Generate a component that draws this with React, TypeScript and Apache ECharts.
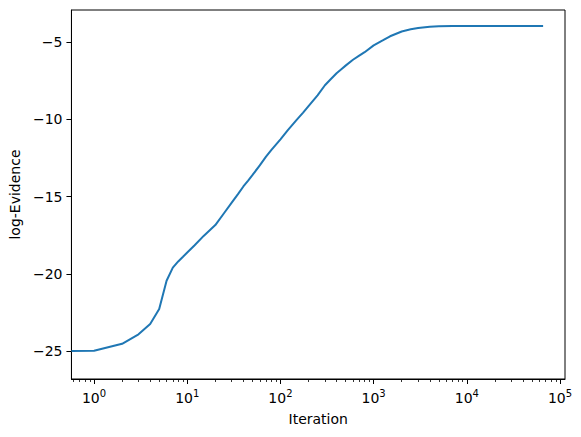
import React, { useEffect, useRef } from "react";
import * as echarts from "echarts";

const iterations = [0, 1, 2, 3, 4, 5, 6, 7, 8, 9, 10, 12, 15, 20, 25, 30, 35, 40, 45, 50, 60, 70, 80, 100, 120, 150, 175, 200, 250, 300, 350, 400, 450, 500, 600, 700, 800, 1000, 1250, 1500, 2000, 2500, 3000, 4000, 5000, 7000, 10000, 20000, 40000, 65800];
const logEvidence = [-25.0, -24.98, -24.53, -23.92, -23.25, -22.28, -20.45, -19.6, -19.2, -18.9, -18.62, -18.15, -17.55, -16.85, -16.05, -15.4, -14.85, -14.35, -13.97, -13.62, -12.98, -12.42, -11.98, -11.3, -10.7, -10.02, -9.57, -9.15, -8.45, -7.8, -7.38, -7.02, -6.76, -6.53, -6.15, -5.88, -5.66, -5.22, -4.9, -4.63, -4.32, -4.18, -4.1, -4.01, -3.98, -3.96, -3.96, -3.96, -3.96, -3.96];
const xMajorTicks = [1, 10, 100, 1000, 10000, 100000];
const yTicks = [-25, -20, -15, -10, -5];

const X_MIN = 0.572;
const X_MAX = 113000;
const Y_MIN = -26.81;
const Y_MAX = -2.93;

const FONT = "DejaVu Sans";

function minorTicks(): number[] {
  const out: number[] = [];
  for (let d = -1; d <= 5; d++) {
    for (let k = 2; k <= 9; k++) {
      const v = k * Math.pow(10, d);
      if (v >= X_MIN && v <= X_MAX) out.push(v);
    }
  }
  return out;
}

export default function App() {
  const ref = useRef<HTMLDivElement>(null);
  useEffect(() => {
    if (!ref.current) return;
    const chart = echarts.init(ref.current, null, { renderer: "svg" });
    const data = iterations.map((it, i) => [it > 0 ? it : X_MIN, logEvidence[i]]);
    chart.setOption({
      animation: false,
      grid: {
        left: 69,
        right: 16,
        top: 10,
        bottom: 58,
        show: true,
        borderColor: "#000",
        borderWidth: 1,
        backgroundColor: "transparent",
      },
      xAxis: [
        {
          type: "log",
          min: X_MIN,
          max: X_MAX,
          name: "Iteration",
          nameLocation: "middle",
          nameGap: 33,
          nameTextStyle: { fontFamily: FONT, fontSize: 14, color: "#000" },
          axisLine: { show: true, lineStyle: { color: "#000", width: 1 } },
          axisTick: {
            show: true,
            customValues: xMajorTicks,
            length: 5,
            lineStyle: { color: "#000", width: 1 },
          },
          axisLabel: {
            customValues: xMajorTicks,
            margin: 9,
            formatter: (v: number) => `{b|10}{s|${Math.round(Math.log10(v))}}`,
            rich: {
              b: { fontFamily: FONT, fontSize: 14, color: "#000", verticalAlign: "bottom" },
              s: { fontFamily: FONT, fontSize: 10, color: "#000", verticalAlign: "bottom", padding: [0, 0, 7, 0] },
            },
          },
          splitLine: { show: false },
          minorTick: { show: false },
        },
        {
          type: "log",
          min: X_MIN,
          max: X_MAX,
          position: "bottom",
          axisLine: { show: false },
          axisTick: {
            show: true,
            customValues: minorTicks(),
            length: 3,
            lineStyle: { color: "#000", width: 0.8 },
          },
          axisLabel: { show: false },
          splitLine: { show: false },
        },
      ],
      yAxis: {
        type: "value",
        min: Y_MIN,
        max: Y_MAX,
        name: "log-Evidence",
        nameLocation: "middle",
        nameGap: 46,
        nameTextStyle: { fontFamily: FONT, fontSize: 14, color: "#000" },
        axisLine: { show: true, lineStyle: { color: "#000", width: 1 } },
        axisTick: { show: true, customValues: yTicks, length: 5, lineStyle: { color: "#000", width: 1 } },
        axisLabel: {
          customValues: yTicks,
          margin: 9,
          fontFamily: FONT,
          fontSize: 14,
          color: "#000",
          formatter: (v: number) => String(v).replace("-", "\u2212"),
        },
        splitLine: { show: false },
      },
      series: [
        {
          type: "line",
          xAxisIndex: 0,
          data,
          showSymbol: false,
          lineStyle: { color: "#1f77b4", width: 2 },
          itemStyle: { color: "#1f77b4" },
        },
      ],
    });
    return () => chart.dispose();
  }, []);
  return (
    <div
      ref={ref}
      style={{ position: "fixed", left: 0, top: 0, width: 581, height: 437, background: "#fff" }}
    />
  );
}
